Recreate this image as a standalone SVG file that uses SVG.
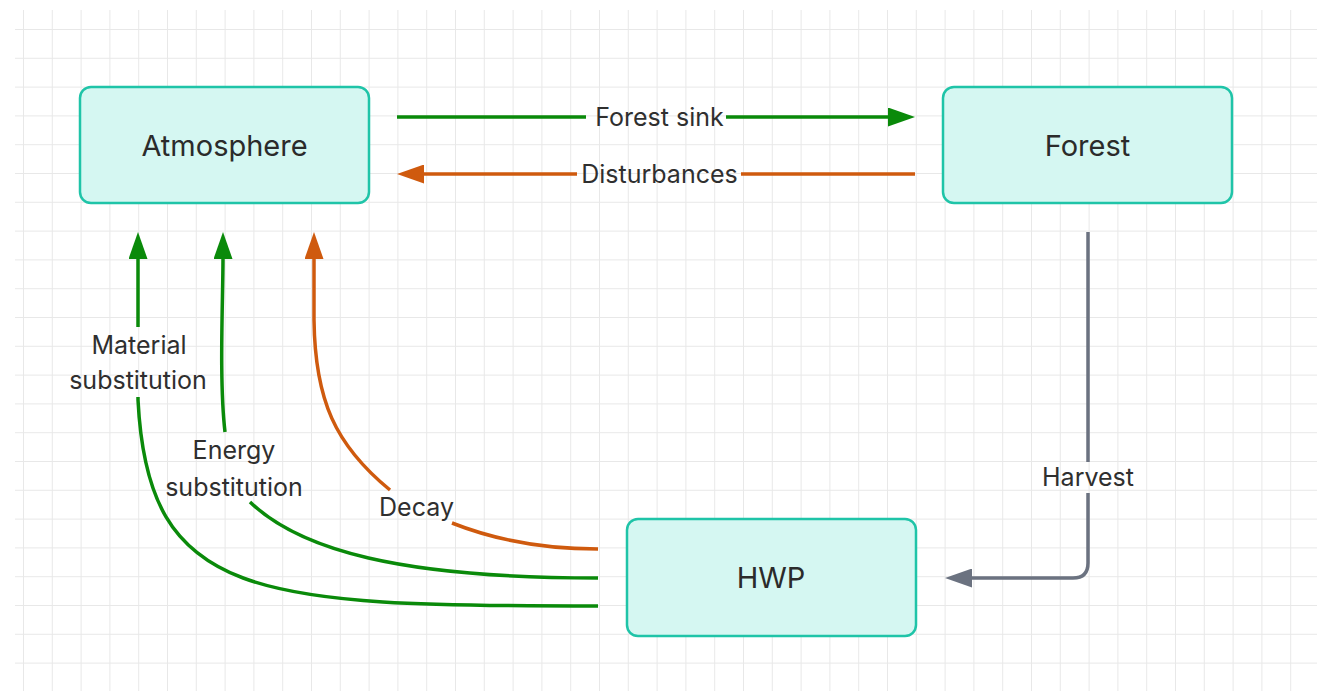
<svg xmlns="http://www.w3.org/2000/svg" width="1317" height="691" viewBox="0 0 1317 691">
<defs>
<style>
.node rect{fill:#d5f7f2;stroke:#1fc4a8;stroke-width:2.5}
.node text{font-family:Inter,"Liberation Sans",sans-serif;font-size:29px;fill:#2b2b2b;text-anchor:middle}
.lbl{font-family:Inter,"Liberation Sans",sans-serif;font-size:25px;fill:#2f2f2f;text-anchor:middle}
.e{fill:none;stroke-width:3.5}
.g{stroke:#0a8a0a}
.o{stroke:#cf5a0e}
.h{stroke:#6b7280}
</style>
<pattern id="grid" patternUnits="userSpaceOnUse" x="23" y="29" width="28.8" height="28.8">
<path d="M0.5,0 V28.8 M0,0.5 H28.8" stroke="#e8e8e8" stroke-width="1" fill="none"/>
</pattern>
<marker id="ag" viewBox="0 0 27 19" markerWidth="27" markerHeight="19" refX="1" refY="9.5" orient="auto" markerUnits="userSpaceOnUse"><path d="M0,0 L27,9.5 L0,19 Z" fill="#0a8a0a"/></marker>
<marker id="ao" viewBox="0 0 27 19" markerWidth="27" markerHeight="19" refX="1" refY="9.5" orient="auto" markerUnits="userSpaceOnUse"><path d="M0,0 L27,9.5 L0,19 Z" fill="#cf5a0e"/></marker>
<marker id="ah" viewBox="0 0 27 19" markerWidth="27" markerHeight="19" refX="1" refY="9.5" orient="auto" markerUnits="userSpaceOnUse"><path d="M0,0 L27,9.5 L0,19 Z" fill="#6b7280"/></marker>
</defs>
<rect x="0" y="0" width="1317" height="691" fill="#ffffff"/>
<rect x="15" y="10" width="1302" height="681" fill="url(#grid)"/>

<g id="connectors">
<g id="e-forest-sink">
<path class="e g" d="M397,117 H586"/>
<path class="e g" d="M726,117 H889" marker-end="url(#ag)"/>
<text class="lbl" x="659.5" y="126">Forest sink</text>
</g>
<g id="e-disturbances">
<path class="e o" d="M915,174 H741"/>
<path class="e o" d="M577,174 H423" marker-end="url(#ao)"/>
<text class="lbl" x="659.5" y="183">Disturbances</text>
</g>
<g id="e-harvest">
<path class="e h" d="M1088,232 V462"/>
<path class="e h" d="M1088,493 V563 Q1088,578 1073,578 H971" marker-end="url(#ah)"/>
<text class="lbl" x="1088" y="486">Harvest</text>
</g>
<g id="e-decay">
<path class="e o" d="M598,549 C540,549 490,538 452,523"/>
<path class="e o" d="M390,490 C335,445 315,400 314,320 V258" marker-end="url(#ao)"/>
<text class="lbl" x="416.5" y="516">Decay</text>
</g>
<g id="e-energy">
<path class="e g" d="M598,578 C400,578 300,550 250,502"/>
<path class="e g" d="M225,432 C219,380 223,300 223,258" marker-end="url(#ag)"/>
<text class="lbl" x="234" y="458.5">Energy</text>
<text class="lbl" x="234" y="495.5">substitution</text>
</g>
<g id="e-material">
<path class="e g" d="M598,606 C255,606 148,600 138,400 V397"/>
<path class="e g" d="M138,327 V258" marker-end="url(#ag)"/>
<text class="lbl" x="139" y="353.5">Material</text>
<text class="lbl" x="138" y="389">substitution</text>
</g>
</g>

<g id="atmosphere" class="node">
<rect x="80" y="87" width="289" height="116" rx="11"/>
<text x="224.5" y="156">Atmosphere</text>
</g>
<g id="forest" class="node">
<rect x="943" y="87" width="289" height="116" rx="11"/>
<text x="1087.5" y="156">Forest</text>
</g>
<g id="hwp" class="node">
<rect x="627" y="519" width="289" height="117" rx="11"/>
<text x="771" y="588">HWP</text>
</g>
</svg>
